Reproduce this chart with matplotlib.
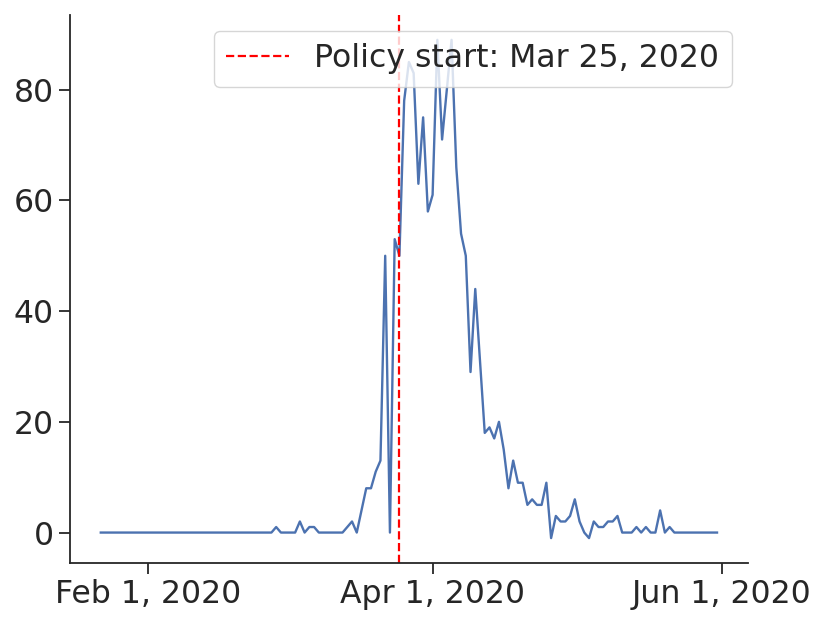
import matplotlib
matplotlib.use("Agg")
import matplotlib.pyplot as plt
import matplotlib.dates as mdates
from matplotlib.ticker import FuncFormatter
import pandas as pd

start_date = "2020-01-22"
values = ([0] * 37 +
          [1, 0, 0, 0, 0, 2, 0, 1, 1, 0, 0, 0, 0, 0, 0, 1, 2, 0, 4, 8, 8, 11, 13,
           50, 0, 53, 50, 78, 85, 83, 63, 75, 58, 61, 89, 71, 80, 89, 66, 54, 50,
           29, 44, 31, 18, 19, 17, 20, 15, 8, 13, 9, 9, 5, 6, 5, 5, 9, -1, 3, 2,
           2, 3, 6, 2, 0, -1, 2, 1, 1, 2, 2, 3, 0, 0, 0, 1, 0, 1, 0, 0, 4, 0, 1] +
          [0] * 10)
dates = pd.date_range(start_date, periods=len(values), freq="D")
policy_date = pd.Timestamp("2020-03-25")
policy_label = "Policy start: Mar 25, 2020"

FS = 22.7
TXT = "#262626"
plt.rcParams.update({
    "font.family": ["DejaVu Sans"],
    "font.size": FS,
    "text.color": TXT,
    "axes.edgecolor": TXT,
    "xtick.color": TXT,
    "ytick.color": TXT,
    "axes.linewidth": 1.3,
})

fig = plt.figure(figsize=(8.3, 6.23), dpi=100)
ax = fig.add_axes([0.0843, 0.0963, 0.8167, 0.8797])

ax.plot(dates, values, color="#4C72B0", linewidth=1.7)
ax.axvline(policy_date, color="red", linestyle="--", linewidth=1.6, label=policy_label)

ax.spines["top"].set_visible(False)
ax.spines["right"].set_visible(False)
ax.tick_params(axis="both", which="major", length=8, width=1.3, labelsize=FS, direction="out")

ax.xaxis.set_major_locator(mdates.MonthLocator(bymonth=[2, 4, 6]))
ax.xaxis.set_major_formatter(FuncFormatter(
    lambda x, pos: (lambda d: f"{d:%b} {d.day}, {d.year}")(mdates.num2date(x))))
ax.set_yticks([0, 20, 40, 60, 80])

leg = ax.legend(loc="upper right", fontsize=FS, frameon=True, fancybox=True)
leg.get_frame().set_edgecolor("#cccccc")

fig.savefig("out.png", dpi=100)
